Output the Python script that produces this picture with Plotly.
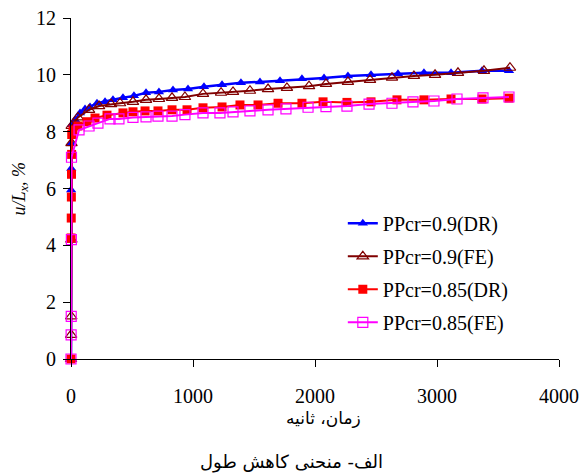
import plotly.graph_objects as go

# ---- data (time in seconds, u/Lx in %) ----
t_dr09 = [0, 1, 2, 3, 6, 33, 74, 115, 156, 213, 279, 344, 426, 516, 615, 721, 836, 959,
          1090, 1238, 1393, 1549, 1713, 1893, 2074, 2270, 2459, 2680, 2893, 3115, 3369, 3590]
u_dr09 = [0, 5.95, 6.7, 7.6, 8.24, 8.42, 8.66, 8.8, 8.87, 9.0, 9.05, 9.12, 9.19, 9.26, 9.37, 9.4,
          9.47, 9.5, 9.58, 9.65, 9.72, 9.75, 9.79, 9.86, 9.89, 9.96, 10.0, 10.04, 10.07, 10.07,
          10.14, 10.14]

t_fe09 = [0, 1, 2, 3, 4, 6, 57, 148, 230, 328, 402, 508, 615, 721, 828, 934, 1082, 1230, 1328,
          1467, 1615, 1770, 1951, 2090, 2270, 2451, 2631, 2811, 2984, 3172, 3385, 3598]
u_fe09 = [0, 0.85, 1.5, 4.2, 7.6, 8.2, 8.5, 8.77, 8.9, 8.97, 9.0, 9.05, 9.12, 9.15, 9.19, 9.22,
          9.33, 9.37, 9.4, 9.44, 9.5, 9.54, 9.6, 9.68, 9.75, 9.82, 9.9, 9.96, 10.0, 10.07, 10.14,
          10.25]

t_dr085 = [0, 1, 2, 3, 4, 5, 6, 16, 57, 131, 197, 295, 426, 508, 607, 713, 828, 951, 1082, 1238,
           1385, 1533, 1697, 1893, 2066, 2262, 2459, 2672, 2893, 3115, 3369, 3590]
u_dr085 = [0, 4.26, 4.96, 5.7, 6.5, 7.2, 7.9, 8.06, 8.2, 8.35, 8.48, 8.58, 8.66, 8.7, 8.73, 8.73,
           8.77, 8.77, 8.84, 8.87, 8.94, 8.94, 9.0, 9.0, 9.05, 9.03, 9.05, 9.12, 9.12, 9.15, 9.15,
           9.18]

t_fe085 = [0, 1, 2, 3, 4, 66, 148, 221, 320, 393, 508, 615, 713, 828, 934, 1082, 1221, 1328, 1467,
           1615, 1762, 1943, 2090, 2262, 2443, 2631, 2803, 2975, 3164, 3377, 3590]
u_fe085 = [0, 0.85, 1.5, 4.2, 7.1, 8.06, 8.2, 8.3, 8.45, 8.45, 8.5, 8.52, 8.55, 8.55, 8.6, 8.66,
           8.66, 8.7, 8.73, 8.77, 8.8, 8.86, 8.88, 8.9, 8.97, 9.0, 9.05, 9.08, 9.15, 9.19, 9.22]

names = ["PPcr=0.9(DR)", "PPcr=0.9(FE)", "PPcr=0.85(DR)", "PPcr=0.85(FE)"]
x_ticks = [0, 1000, 2000, 3000, 4000]
y_ticks = [0, 2, 4, 6, 8, 10, 12]

SERIF = "Times New Roman, Liberation Serif, serif"

fig = go.Figure()
fig.add_trace(go.Scatter(x=t_dr09, y=u_dr09, name=names[0], mode="lines+markers",
                         line=dict(color="#0000FF", width=2.5),
                         marker=dict(symbol="triangle-up", size=9, color="#0000FF"),
                         cliponaxis=False, legendgroup="a"))
fig.add_trace(go.Scatter(x=t_fe09, y=u_fe09, name=names[1], mode="lines+markers",
                         line=dict(color="#800000", width=2),
                         marker=dict(symbol="triangle-up-open", size=10, color="#800000",
                                     line=dict(width=1.2)),
                         cliponaxis=False, legendgroup="b"))
fig.add_trace(go.Scatter(x=t_dr085, y=u_dr085, name=names[2], mode="lines+markers",
                         line=dict(color="#FF0000", width=2),
                         marker=dict(symbol="square", size=9, color="#FF0000"),
                         cliponaxis=False, legendgroup="c"))
fig.add_trace(go.Scatter(x=t_fe085, y=u_fe085, name=names[3], mode="lines+markers",
                         line=dict(color="#FF00FF", width=2),
                         marker=dict(symbol="square-open", size=10, color="#FF00FF",
                                     line=dict(width=1.2)),
                         cliponaxis=False, legendgroup="d"))

axis_font = dict(family=SERIF, size=20, color="black")
fig.update_layout(
    width=581, height=473,
    margin=dict(l=71, r=22, t=18, b=114, autoexpand=False),
    paper_bgcolor="white", plot_bgcolor="white",
    font=dict(family=SERIF, size=20, color="black"),
    showlegend=True,
    legend=dict(x=0.557, y=0.455, xanchor="left", yanchor="top",
                font=dict(family=SERIF, size=20, color="black"),
                bgcolor="rgba(0,0,0,0)", tracegroupgap=4, itemwidth=30),
    xaxis=dict(range=[0, 4000], tickvals=x_ticks, showgrid=False, zeroline=False,
               showline=True, linecolor="black", linewidth=1, ticks="outside",
               ticklen=7, tickcolor="black", tickfont=axis_font, automargin=False,
               ticklabeloverflow="allow", ticklabelstandoff=12),
    yaxis=dict(range=[0, 12], tickvals=y_ticks, showgrid=False, zeroline=False,
               showline=True, linecolor="black", linewidth=1, ticks="outside",
               ticklen=7, tickcolor="black", tickfont=axis_font, automargin=False,
               ticklabeloverflow="allow", ticklabelstandoff=3),
    annotations=[
        dict(text="<i>u/L<sub>x</sub>, %</i>", xref="paper", yref="paper",
             x=-0.1045, y=0.5, xanchor="center", yanchor="middle", textangle=-90,
             showarrow=False, font=dict(family=SERIF, size=18, color="black")),
        dict(text="زمان، ثانیه", xref="paper", yref="paper",
             x=0.518, y=-0.173, xanchor="center", yanchor="middle", showarrow=False,
             font=dict(family="DejaVu Sans", size=17, color="black")),
        dict(text="الف- منحنی کاهش طول", xref="paper", yref="paper",
             x=0.451, y=-0.302, xanchor="center", yanchor="middle", showarrow=False,
             font=dict(family="DejaVu Sans", size=18, color="black")),
    ],
)

fig.write_html("out.html",
               config={"displayModeBar": False},
               post_script="document.body.style.margin='0';"
                           "document.body.style.overflow='hidden';")
